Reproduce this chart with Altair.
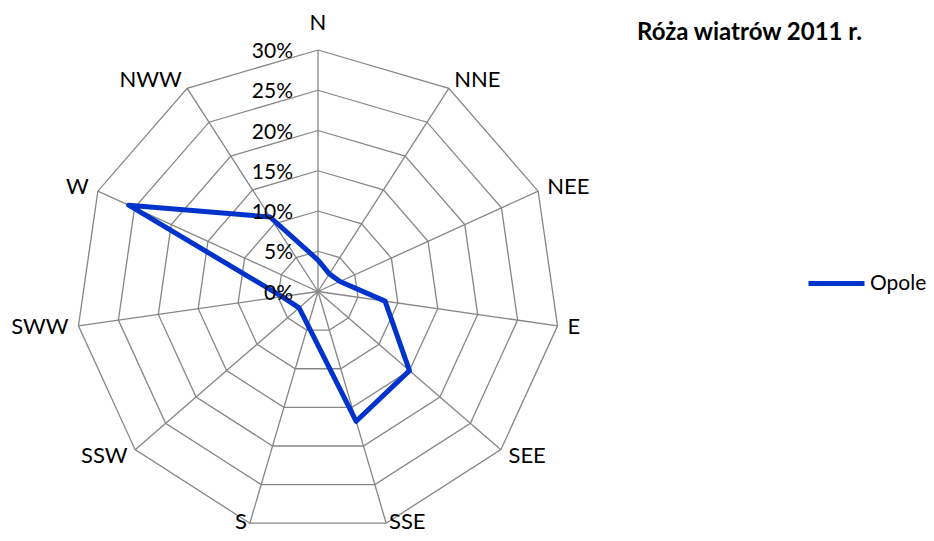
import altair as alt
import pandas as pd

# ---- data ----
directions = ["N", "NNE", "NEE", "E", "SEE", "SSE", "S", "SSW", "SWW", "W", "NWW"]
opole = [3.9, 2.6, 3.0, 8.4, 15.0, 16.8, 4.4, 3.1, 4.5, 25.8, 11.0]
ticks = [0, 5, 10, 15, 20, 25, 30]
tick_labels = ["0%", "5%", "10%", "15%", "20%", "25%", "30%"]
series_name = "Opole"
chart_title = "Róża wiatrów 2011 r."

n = len(directions)
rmax = ticks[-1]

# ---- tables built from the arrays ----
dir_df = pd.DataFrame({"dir": directions, "k": list(range(n))})
series_df = pd.DataFrame({
    "dir": directions + [directions[0]],
    "k": list(range(n + 1)),
    "value": opole + [opole[0]],
    "series": [series_name] * (n + 1),
})
ring_df = pd.DataFrame([{"tick": t, "k": k} for t in ticks for k in range(n + 1)])
tick_df = pd.DataFrame({"tick": ticks, "label": tick_labels})

W_PX = 484
H_PX = 483
FONT = "Lato"
GRID = "#868686"
BLUE = "#0033CC"

xs = alt.Scale(domain=[-rmax, rmax], nice=False, zero=False)
ys = alt.Scale(domain=[-rmax, rmax], nice=False, zero=False)

ang = f"2*PI*datum.k/{n}"

def X(f):
    return alt.X(f"{f}:Q", scale=xs, axis=None)

def Y(f):
    return alt.Y(f"{f}:Q", scale=ys, axis=None)

spokes = alt.Chart(dir_df).transform_calculate(
    x0="0", y0="0",
    x=f"{rmax}*sin({ang})", y=f"{rmax}*cos({ang})",
).mark_rule(color=GRID, strokeWidth=1.3).encode(
    x=X("x0"), y=Y("y0"), x2="x:Q", y2="y:Q"
)

rings = alt.Chart(ring_df).transform_calculate(
    x=f"datum.tick*sin({ang})", y=f"datum.tick*cos({ang})",
).mark_line(color=GRID, strokeWidth=1.3).encode(
    x=X("x"), y=Y("y"), detail="tick:N", order="k:Q"
)

line = alt.Chart(series_df).transform_calculate(
    x=f"datum.value*sin({ang})", y=f"datum.value*cos({ang})",
).mark_line(strokeWidth=5, strokeJoin="round", strokeCap="round").encode(
    x=X("x"), y=Y("y"), order="k:Q",
    color=alt.Color(
        "series:N",
        scale=alt.Scale(range=[BLUE]),
        legend=alt.Legend(
            title=None, orient="none", legendX=730, legendY=203,
            symbolType="stroke", symbolSize=3136, symbolStrokeWidth=5,
            labelFont=FONT, labelFontSize=21, labelColor="#000000",
            labelOffset=3, padding=0,
        ),
    ),
)

px = W_PX / (2 * rmax)
label_base = alt.Chart(dir_df).transform_calculate(
    s=f"sin({ang})", c=f"cos({ang})",
).transform_calculate(
    lr=f"{rmax} + 10/{px} + (abs(datum.s) < 0.1 ? 2.1 : 0)",
).transform_calculate(
    lx="datum.lr*datum.s",
    ly="max(datum.lr*datum.c, -28.6)",
)

def dir_labels(cond, align):
    return label_base.transform_filter(cond).mark_text(
        align=align, baseline="middle", font=FONT, fontSize=22, color="#000000"
    ).encode(x=X("lx"), y=Y("ly"), text="dir:N")

lab_left = dir_labels("datum.s > 0.1", "left")
lab_right = dir_labels("datum.s < -0.1", "right")
lab_center = dir_labels("abs(datum.s) <= 0.1", "center")

tick_text = alt.Chart(tick_df).transform_calculate(x0="0").mark_text(
    align="right", baseline="middle", dx=-25, dy=2,
    font=FONT, fontSize=21, color="#000000"
).encode(x=X("x0"), y=Y("tick"), text="label:N")

chart = alt.layer(
    spokes, rings, line, tick_text, lab_left, lab_right, lab_center
).properties(
    width=W_PX, height=H_PX,
    background="white",
    autosize=alt.AutoSizeParams(type="none"),
    padding={"left": 68, "top": 42, "right": 366, "bottom": 0},
    title=alt.TitleParams(
        chart_title, anchor="start", frame="group", orient="top",
        font=FONT, fontSize=24, fontWeight="bold", color="#000000",
        dx=561, dy=37,
    ),
).configure_view(stroke=None, strokeWidth=0)

chart.save("out.html", embed_options={"renderer": "svg", "actions": False})
